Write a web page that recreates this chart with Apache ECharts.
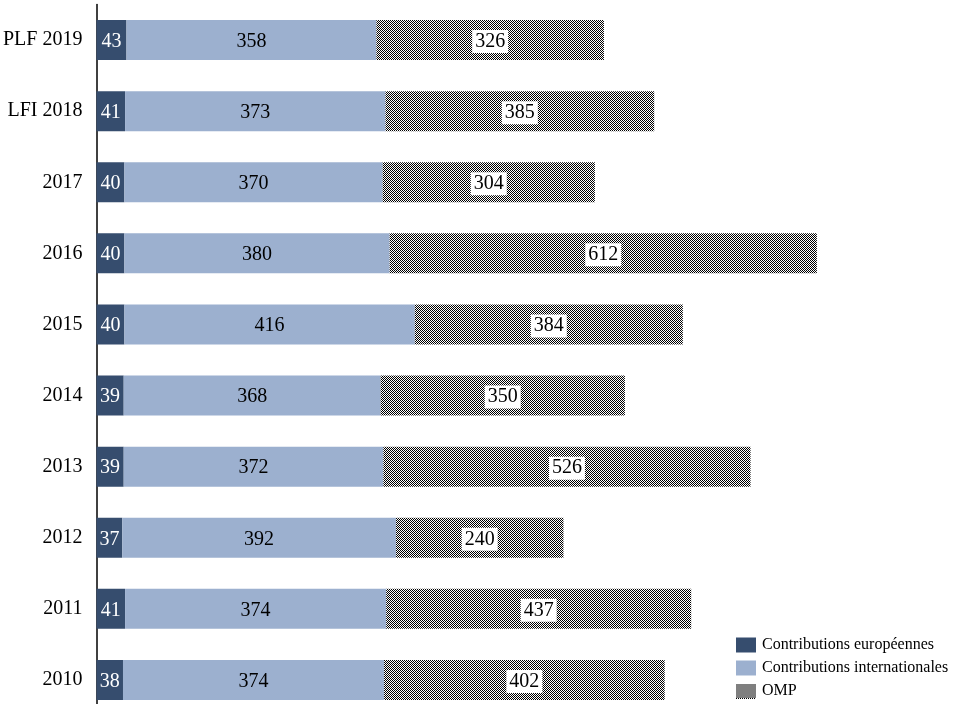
<!DOCTYPE html>
<html><head><meta charset="utf-8">
<script src="https://cdn.jsdelivr.net/npm/echarts@6/dist/echarts.min.js"></script>
<style>html,body{margin:0;padding:0;background:#fff;overflow:hidden}#c{width:977px;height:716px}</style>
</head><body><div id="c"></div>
<script>
const categories = ['PLF 2019','LFI 2018','2017','2016','2015','2014','2013','2012','2011','2010'];
const europeennes = [43,41,40,40,40,39,39,37,41,38];
const internationales = [358,373,370,380,416,368,372,392,374,374];
const omp = [326,385,304,612,384,350,526,240,437,402];

function checker(w, h) {
  const c = document.createElement('canvas');
  c.width = w; c.height = h;
  const g = c.getContext('2d');
  g.fillStyle = '#fff'; g.fillRect(0, 0, w, h);
  g.fillStyle = '#000';
  for (let y = 0; y < h; y++) for (let x = 0; x < w; x++) if ((x + y) % 2 === 0) g.fillRect(x, y, 1, 1);
  return c;
}
const pattern = {image: checker(2, 2), repeat: 'repeat'};
const legendIcon = 'image://' + checker(20, 15).toDataURL();

const FONT = '"Liberation Serif", "DejaVu Serif", serif';
const chart = echarts.init(document.getElementById('c'), null, {renderer:'canvas'});
const lbl = {show: true, position: 'inside', fontFamily: FONT, fontSize: 20, offset: [0, 1.5]};
chart.setOption({
  animation: false,
  grid: {left: 96, top: 4.5, width: 880, height: 711, containLabel: false},
  legend: {
    orient: 'vertical', left: 736, top: 637, padding: 0, itemWidth: 20, itemHeight: 15, itemGap: 7,
    icon: 'rect',
    textStyle: {fontFamily: FONT, fontSize: 16, color: '#000', padding: [0,0,0,1]},
    data: [{name:'Contributions européennes'},{name:'Contributions internationales'},
           {name:'OMP', icon: legendIcon}]
  },
  xAxis: {type: 'value', min: 0, max: 1260, show: false},
  yAxis: {
    type: 'category', data: categories, inverse: true,
    axisLine: {show: true, lineStyle: {color: '#000', width: 1.5}},
    axisTick: {show: false},
    axisLabel: {fontFamily: FONT, fontSize: 20, color: '#000', margin: 14}
  },
  series: [
    {name: 'Contributions européennes', type: 'bar', stack: 's', barWidth: 40, data: europeennes,
     itemStyle: {color: '#364d6e'},
     label: Object.assign({}, lbl, {color: '#fff'})},
    {name: 'Contributions internationales', type: 'bar', stack: 's', barWidth: 40, data: internationales,
     itemStyle: {color: '#9cb0cf'},
     label: Object.assign({}, lbl, {color: '#000'})},
    {name: 'OMP', type: 'bar', stack: 's', barWidth: 40, data: omp,
     itemStyle: {color: pattern},
     label: Object.assign({}, lbl, {color: '#000', backgroundColor: '#fff', padding: [2,3,1,3]})}
  ]
});
</script></body></html>
